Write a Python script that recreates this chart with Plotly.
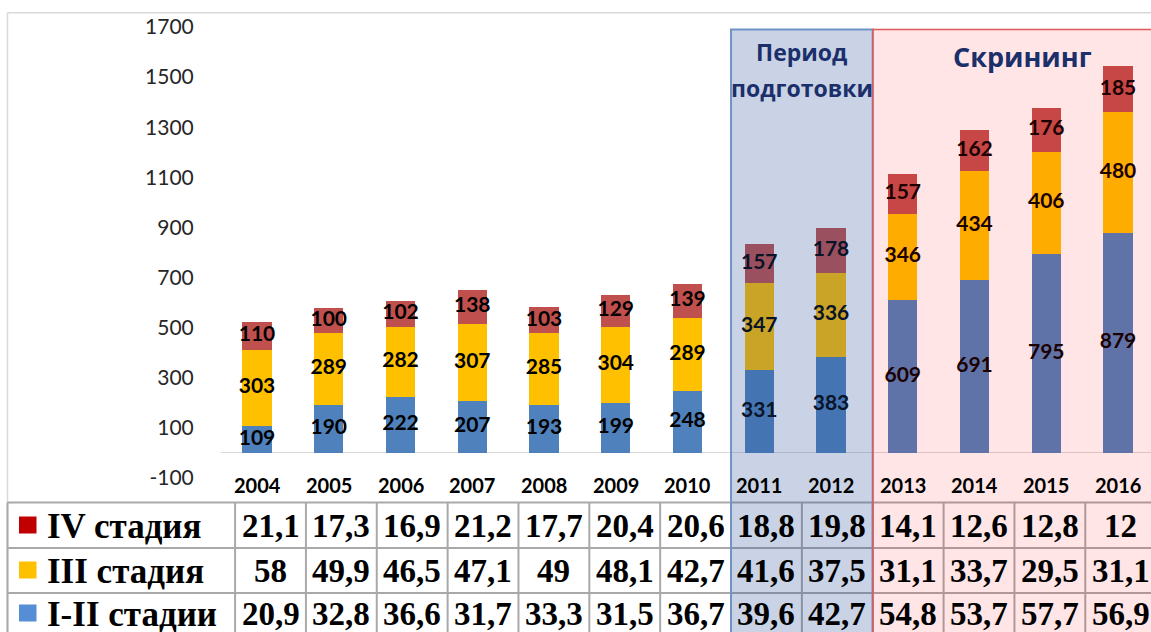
import plotly.graph_objects as go

# ---------------- data ----------------
years = ["2004", "2005", "2006", "2007", "2008", "2009", "2010",
         "2011", "2012", "2013", "2014", "2015", "2016"]
stage_1_2 = [109, 190, 222, 207, 193, 199, 248, 331, 383, 609, 691, 795, 879]
stage_3 = [303, 289, 282, 307, 285, 304, 289, 347, 336, 346, 434, 406, 480]
stage_4 = [110, 100, 102, 138, 103, 129, 139, 157, 178, 157, 162, 176, 185]

pct_4 = [21.1, 17.3, 16.9, 21.2, 17.7, 20.4, 20.6, 18.8, 19.8, 14.1, 12.6, 12.8, 12]
pct_3 = [58, 49.9, 46.5, 47.1, 49, 48.1, 42.7, 41.6, 37.5, 31.1, 33.7, 29.5, 31.1]
pct_1_2 = [20.9, 32.8, 36.6, 31.7, 33.3, 31.5, 36.7, 39.6, 42.7, 54.8, 53.7, 57.7, 56.9]

series_names = ["I-II стадии", "III стадия", "IV стадия"]
y_ticks = [-100, 100, 300, 500, 700, 900, 1100, 1300, 1500, 1700]
y_tick_text = ["-100", "100", "300", "500", "700", "900", "1100", "1300", "1500", "1700"]

period_prep = ["Период", "подготовки"]
period_screen = "Скрининг"

# ---------------- styles ----------------
bar_colors = ["#4F81BD", "#FFC000", "#C0504D"]
legend_colors = ["#558ED5", "#FFC000", "#C00000"]
NUM_FONT = "Lato"
TXT_FONT = "Open Sans"
SERIF = "Liberation Serif"

W, H = 1151, 632
PL, PT, PB = 221, 27, 478          # plot area pixel bounds
PW, PH = W - PL, PB - PT
CAT_C0, CAT_D = 257.0, 71.75       # chart category centers (px)
TAB_C0, TAB_D = 270.5, 70.85       # table column centers (px)


def py(pix):   # pixel y -> paper y
    return (PB - pix) / PH


def px(pix):   # pixel x -> paper x
    return (pix - PL) / PW


fig = go.Figure()

series = [stage_1_2, stage_3, stage_4]
for vals, col, name in zip(series, bar_colors, series_names):
    fig.add_trace(go.Bar(x=years, y=vals, name=name, marker_color=col,
                         marker_line_width=0, hoverinfo="skip"))

# value labels centred in each segment
base = [0] * len(years)
for vals in series:
    centers = [b + v / 2 for b, v in zip(base, vals)]
    fig.add_trace(go.Scatter(
        x=years, y=centers, mode="text", text=[str(v) for v in vals],
        textfont=dict(family=NUM_FONT, size=21, color="black", weight="bold"),
        cliponaxis=False, hoverinfo="skip", showlegend=False))
    base = [b + v for b, v in zip(base, vals)]

x_r0 = (PL - CAT_C0) / CAT_D
x_r1 = x_r0 + PW / CAT_D
t_r0 = (PL - TAB_C0) / TAB_D
t_r1 = t_r0 + PW / TAB_D

shapes = []
annotations = []

# year labels under the axis (category index on the category axis)
for i, yr in enumerate(years):
    annotations.append(dict(xref="x", yref="paper", x=i, y=py(485),
                            xanchor="center", yanchor="middle", showarrow=False,
                            text="<b>" + yr + "</b>",
                            font=dict(family=NUM_FONT, size=20, color="black")))

# outer light border (top + left)
shapes.append(dict(type="line", xref="paper", yref="paper",
                   x0=px(7.5), x1=1.0, y0=py(12.7), y1=py(12.7),
                   line=dict(color="#D9D9D9", width=1.5)))
shapes.append(dict(type="line", xref="paper", yref="paper",
                   x0=px(7.5), x1=px(7.5), y0=py(12.7), y1=py(645),
                   line=dict(color="#D9D9D9", width=1.5)))

# ---------------- table ----------------
row_lines = [502.5, 548, 593]
grid_col = "#A9A9A9"
for r in row_lines:
    shapes.append(dict(type="line", xref="paper", yref="paper",
                       x0=px(7.5), x1=1.0, y0=py(r), y1=py(r),
                       line=dict(color=grid_col, width=2)))
shapes.append(dict(type="line", xref="paper", yref="paper",
                   x0=px(7.5), x1=px(7.5), y0=py(502.5), y1=py(645),
                   line=dict(color=grid_col, width=2)))
for i in range(len(years)):
    shapes.append(dict(type="line", xref="x2", yref="paper",
                       x0=i - 0.5, x1=i - 0.5, y0=py(502.5), y1=py(645),
                       line=dict(color=grid_col, width=2)))

row_centers = [525, 570, 613]
table_rows = [pct_4, pct_3, pct_1_2]
row_labels = ["IV стадия", "III стадия", "I-II стадии"]
row_colors = [legend_colors[2], legend_colors[1], legend_colors[0]]


def fmt(v):
    return str(int(v)) if float(v).is_integer() else str(v).replace(".", ",")


for rc, vals, lab, col in zip(row_centers, table_rows, row_labels, row_colors):
    shapes.append(dict(type="rect", xref="paper", yref="paper",
                       x0=px(19), x1=px(36.5), y0=py(rc - 8.5), y1=py(rc + 8.5),
                       fillcolor=col, line=dict(width=0)))
    annotations.append(dict(xref="paper", yref="paper", x=px(45), y=py(rc + 1),
                            xanchor="left", yanchor="middle", showarrow=False,
                            text="<b>" + lab + "</b>",
                            font=dict(family=SERIF, size=35, color="black")))
    for i, v in enumerate(vals):
        annotations.append(dict(xref="x2", yref="paper", x=i, y=py(rc + 1),
                                xanchor="center", yanchor="middle", showarrow=False,
                                text="<b>" + fmt(v) + "</b>",
                                font=dict(family=SERIF, size=33, color="black")))

# ---------------- period overlays ----------------
shapes.append(dict(type="rect", xref="x2", yref="paper", layer="above",
                   x0=6.5, x1=8.5, y0=py(645), y1=py(29.5),
                   fillcolor="rgba(40,80,150,0.25)",
                   line=dict(color="#6F93C3", width=2)))
shapes.append(dict(type="rect", xref="x2", yref="paper", layer="above",
                   x0=8.5, x1=13.5, y0=py(645), y1=py(29.5),
                   fillcolor="rgba(255,0,0,0.10)",
                   line=dict(color="#E05A5A", width=1.5)))

annotations.append(dict(xref="x2", yref="paper", x=7.5, y=py(52),
                        xanchor="center", yanchor="middle", showarrow=False,
                        text="<b>" + period_prep[0] + "</b>",
                        font=dict(family=TXT_FONT, size=23, color="#1B2F6B")))
annotations.append(dict(xref="x2", yref="paper", x=7.5, y=py(88),
                        xanchor="center", yanchor="middle", showarrow=False,
                        text="<b>" + period_prep[1] + "</b>",
                        font=dict(family=TXT_FONT, size=23, color="#1B2F6B")))
annotations.append(dict(xref="x2", yref="paper", x=10.62, y=py(56),
                        xanchor="center", yanchor="middle", showarrow=False,
                        text="<b>" + period_screen + "</b>",
                        font=dict(family=TXT_FONT, size=27, color="#1B2F6B")))

fig.update_layout(
    width=W, height=H,
    margin=dict(l=PL, r=0, t=PT, b=H - PB, pad=0),
    paper_bgcolor="white", plot_bgcolor="white",
    barmode="stack", bargap=0.595, showlegend=False,
    xaxis=dict(type="category", range=[x_r0, x_r1], showgrid=False,
               showline=False, zeroline=False, ticks="", showticklabels=False),
    xaxis2=dict(overlaying="x", anchor="y", range=[t_r0, t_r1], visible=False,
                showgrid=False, zeroline=False),
    yaxis=dict(range=[-100, 1700], tickvals=y_ticks, ticktext=y_tick_text,
               showgrid=False, showline=False, zeroline=True,
               zerolinecolor="#D9D9D9", zerolinewidth=1, ticks="outside",
               ticklen=22, tickcolor="rgba(0,0,0,0)",
               tickfont=dict(family=NUM_FONT, size=21, color="#262626")),
    shapes=shapes, annotations=annotations,
)

fig.write_html("out.html",
               config={"displayModeBar": False},
               post_script="document.body.style.margin='0px';"
                           "document.body.style.overflow='hidden';")
